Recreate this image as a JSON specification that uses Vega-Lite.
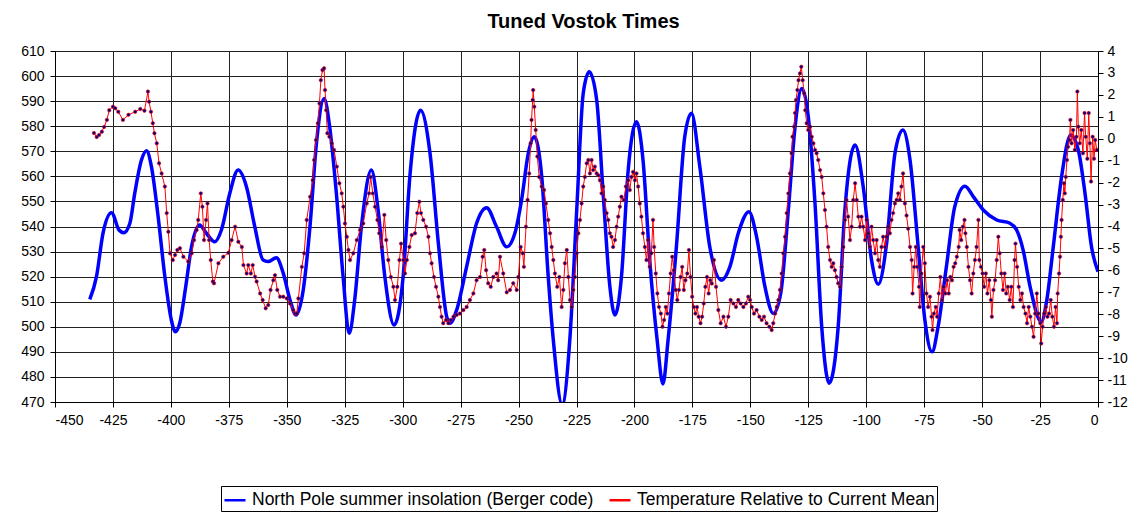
{
"$schema": "https://vega.github.io/schema/vega-lite/v6.json",
"width": 1043, "height": 351,
"autosize": {"type": "none"},
"padding": {"left": 55, "top": 51, "right": 42, "bottom": 114},
"background": "white",
"title": {"text": "Tuned Vostok Times", "font": "Liberation Sans", "fontSize": 20, "fontWeight": "bold", "color": "black", "anchor": "middle", "frame": "group", "offset": 12, "dx": 7},
"config": {
  "view": {"stroke": "#999999", "strokeWidth": 1},
  "axis": {"labelFont": "Liberation Sans", "labelFontSize": 14, "labelColor": "black", "domainColor": "black", "tickColor": "black", "gridColor": "#222222", "gridWidth": 1, "tickSize": 5, "title": null, "labelOverlap": false},
  "legend": {"orient": "none", "legendX": 166, "legendY": 435, "direction": "horizontal", "columns": 2, "title": null, "strokeColor": "black", "fillColor": "white", "padding": 2, "labelFont": "Liberation Sans", "labelFontSize": 17.5, "labelColor": "black", "symbolType": "stroke", "symbolSize": 441, "symbolStrokeWidth": 2.5, "labelLimit": 0, "columnPadding": 10, "labelOffset": 5}
},
"datasets": {
"ins": [
{"age":-435,"ins":510.9},{"age":-432.1,"ins":520},{"age":-429.3,"ins":537.3},{"age":-425.6,"ins":545.5},{"age":-422.4,"ins":538.6},{"age":-420.3,"ins":537.5},{"age":-417.7,"ins":541.3},{"age":-415.6,"ins":553.2},{"age":-412.7,"ins":566.5},{"age":-410.5,"ins":570.2},{"age":-408.4,"ins":563.9},{"age":-405.5,"ins":543.9},{"age":-402.6,"ins":520},{"age":-399.8,"ins":502.7},{"age":-398.1,"ins":498},{"age":-396.2,"ins":501.4},{"age":-393.6,"ins":516},{"age":-391.1,"ins":531.9},{"age":-387.6,"ins":540.6},{"age":-384.7,"ins":537.3},{"age":-381.1,"ins":533.9},{"age":-378.2,"ins":538.6},{"age":-374.6,"ins":553.2},{"age":-371,"ins":562.5},{"age":-367.4,"ins":555.9},{"age":-363.8,"ins":539.9},{"age":-360.2,"ins":526.6},{"age":-358.1,"ins":526},{"age":-354.5,"ins":527.5},{"age":-351.5,"ins":521.3},{"age":-348.6,"ins":510.7},{"age":-346,"ins":504.7},{"age":-342.9,"ins":514.7},{"age":-340,"ins":539.9},{"age":-337.2,"ins":573.2},{"age":-333.9,"ins":591.1},{"age":-331.5,"ins":579.8},{"age":-328.6,"ins":553.2},{"age":-325.7,"ins":520},{"age":-323.1,"ins":497.4},{"age":-320.7,"ins":510.7},{"age":-317.8,"ins":539.9},{"age":-313.5,"ins":562.5},{"age":-310.6,"ins":546.6},{"age":-307.7,"ins":520},{"age":-303.7,"ins":500.7},{"age":-299.8,"ins":520},{"age":-296.9,"ins":559.9},{"age":-292.3,"ins":586.4},{"age":-288.2,"ins":569.2},{"age":-284.6,"ins":533.3},{"age":-281,"ins":504},{"age":-279.6,"ins":501.4},{"age":-276.7,"ins":506.7},{"age":-272.4,"ins":524},{"age":-268.1,"ins":541.3},{"age":-263.8,"ins":547.5},{"age":-259.5,"ins":539.9},{"age":-255.1,"ins":531.9},{"age":-251.6,"ins":537.3},{"age":-248.7,"ins":550.6},{"age":-245.8,"ins":569.2},{"age":-243.2,"ins":575.8},{"age":-240,"ins":559.9},{"age":-237.2,"ins":520},{"age":-235,"ins":494.7},{"age":-231.2,"ins":469},{"age":-227.8,"ins":496},{"age":-224.9,"ins":546.6},{"age":-222.1,"ins":593.1},{"age":-219.5,"ins":601.7},{"age":-216.3,"ins":590.5},{"age":-213.5,"ins":553.2},{"age":-210.6,"ins":516},{"age":-208.4,"ins":504.7},{"age":-205.6,"ins":520},{"age":-202.7,"ins":562.5},{"age":-199.1,"ins":581.8},{"age":-196.3,"ins":566.5},{"age":-193.4,"ins":526.6},{"age":-190.2,"ins":494.7},{"age":-187.7,"ins":477.2},{"age":-185.5,"ins":494.7},{"age":-181.9,"ins":531.9},{"age":-178.3,"ins":575.8},{"age":-175.4,"ins":585.2},{"age":-171.8,"ins":563.9},{"age":-167.5,"ins":531.9},{"age":-162.4,"ins":518.6},{"age":-158.8,"ins":524},{"age":-155.2,"ins":537.3},{"age":-150.6,"ins":545.9},{"age":-147.3,"ins":535.9},{"age":-143.7,"ins":516},{"age":-140.1,"ins":505.3},{"age":-136.9,"ins":513.3},{"age":-133.6,"ins":546.6},{"age":-130.7,"ins":579.8},{"age":-127.8,"ins":595},{"age":-125,"ins":583.8},{"age":-122.1,"ins":549.2},{"age":-119.2,"ins":500},{"age":-116,"ins":477.5},{"age":-112.1,"ins":500},{"age":-109.2,"ins":546.6},{"age":-104.8,"ins":572.5},{"age":-101.3,"ins":555.9},{"age":-97.7,"ins":526.6},{"age":-94.8,"ins":517},{"age":-91.2,"ins":533.3},{"age":-87.6,"ins":569.2},{"age":-84.2,"ins":578.5},{"age":-81.1,"ins":566.5},{"age":-77.6,"ins":531.9},{"age":-74.7,"ins":502.7},{"age":-71.6,"ins":490},{"age":-69,"ins":500},{"age":-65.4,"ins":524},{"age":-61.8,"ins":547.9},{"age":-57.4,"ins":556.1},{"age":-53.8,"ins":551.9},{"age":-49.5,"ins":546.6},{"age":-43.7,"ins":542.6},{"age":-38,"ins":541.3},{"age":-35.1,"ins":538.6},{"age":-32.3,"ins":530.6},{"age":-29.3,"ins":516},{"age":-24.5,"ins":502},{"age":-22.2,"ins":510},{"age":-19.3,"ins":531.9},{"age":-15.7,"ins":559.9},{"age":-11.8,"ins":576.5},{"age":-8.5,"ins":570.5},{"age":-5.6,"ins":553.2},{"age":-2.8,"ins":531.9},{"age":0,"ins":522}
],
"temp": [
{"age":-433.2,"temp":0.26},{"age":-432,"temp":0.08},{"age":-431,"temp":0.17},{"age":-429.8,"temp":0.32},{"age":-428.8,"temp":0.54},{"age":-427.6,"temp":0.86},{"age":-426.6,"temp":1.3},{"age":-425,"temp":1.46},{"age":-424,"temp":1.39},{"age":-422.7,"temp":1.23},{"age":-420.7,"temp":0.86},{"age":-418.3,"temp":1.09},{"age":-415.4,"temp":1.23},{"age":-413.2,"temp":1.36},{"age":-411.4,"temp":1.28},{"age":-409.9,"temp":2.15},{"age":-409.4,"temp":1.69},{"age":-408.6,"temp":1.23},{"age":-407.8,"temp":0.71},{"age":-407.1,"temp":0.25},{"age":-406.1,"temp":-0.21},{"age":-405.1,"temp":-1.12},{"age":-404,"temp":-1.58},{"age":-402.6,"temp":-2.18},{"age":-401.8,"temp":-3.39},{"age":-401.1,"temp":-4.24},{"age":-400.4,"temp":-5.22},{"age":-399.2,"temp":-5.53},{"age":-398.2,"temp":-5.3},{"age":-397.2,"temp":-5.07},{"age":-396.1,"temp":-4.99},{"age":-394.6,"temp":-5.38},{"age":-392.5,"temp":-5.6},{"age":-391,"temp":-5.22},{"age":-390,"temp":-4.62},{"age":-388.9,"temp":-4.16},{"age":-388.2,"temp":-3.7},{"age":-387.1,"temp":-2.49},{"age":-386.4,"temp":-3.1},{"age":-385.7,"temp":-4.62},{"age":-384.8,"temp":-3.7},{"age":-384.2,"temp":-2.95},{"age":-383.5,"temp":-4.62},{"age":-382.8,"temp":-5.53},{"age":-381.9,"temp":-6.51},{"age":-381.4,"temp":-6.59},{"age":-379.5,"temp":-5.68},{"age":-377.4,"temp":-5.38},{"age":-375.2,"temp":-5.2},{"age":-373.8,"temp":-4.62},{"age":-372.3,"temp":-4.01},{"age":-370.9,"temp":-4.7},{"age":-369.4,"temp":-4.93},{"age":-368.7,"temp":-5.76},{"age":-367.3,"temp":-6.14},{"age":-366.6,"temp":-5.76},{"age":-365.5,"temp":-6.14},{"age":-364.7,"temp":-5.76},{"age":-363.7,"temp":-6.29},{"age":-363,"temp":-6.51},{"age":-361.5,"temp":-7.05},{"age":-360.4,"temp":-7.35},{"age":-359.1,"temp":-7.73},{"age":-358,"temp":-7.58},{"age":-357,"temp":-6.89},{"age":-355.8,"temp":-6.45},{"age":-355.1,"temp":-6.22},{"age":-354.1,"temp":-6.89},{"age":-352.9,"temp":-7.2},{"age":-351.5,"temp":-7.2},{"age":-350,"temp":-7.28},{"age":-348.6,"temp":-7.51},{"age":-347.2,"temp":-7.81},{"age":-346.4,"temp":-7.97},{"age":-345.7,"temp":-7.97},{"age":-345,"temp":-7.28},{"age":-343.5,"temp":-5.84},{"age":-342.5,"temp":-5.22},{"age":-341.4,"temp":-3.7},{"age":-339.9,"temp":-2.64},{"age":-338.8,"temp":-1.89},{"age":-338.2,"temp":-0.97},{"age":-337.4,"temp":-0.06},{"age":-336.6,"temp":0.71},{"age":-335.9,"temp":1.61},{"age":-335.3,"temp":2.67},{"age":-334.6,"temp":3.13},{"age":-333.9,"temp":3.21},{"age":-333.5,"temp":2.22},{"age":-333,"temp":1.3},{"age":-332.5,"temp":0.25},{"age":-331.6,"temp":0.09},{"age":-330.6,"temp":-0.21},{"age":-329.6,"temp":-0.51},{"age":-328.4,"temp":-1.27},{"age":-327.3,"temp":-2.03},{"age":-326.3,"temp":-2.49},{"age":-325.6,"temp":-3.1},{"age":-324.9,"temp":-3.86},{"age":-324.1,"temp":-4.47},{"age":-323.4,"temp":-5.07},{"age":-322.7,"temp":-5.53},{"age":-321.3,"temp":-5.22},{"age":-319.8,"temp":-4.62},{"age":-318.4,"temp":-4.16},{"age":-317,"temp":-3.86},{"age":-315.5,"temp":-2.95},{"age":-314.5,"temp":-2.49},{"age":-313.8,"temp":-1.74},{"age":-312.9,"temp":-2.49},{"age":-311.9,"temp":-3.1},{"age":-310.9,"temp":-3.7},{"age":-310.1,"temp":-4.31},{"age":-309,"temp":-4.93},{"age":-307.9,"temp":-3.47},{"age":-307.1,"temp":-4.62},{"age":-306.2,"temp":-5.53},{"age":-305.1,"temp":-6.3},{"age":-304,"temp":-6.75},{"age":-303.3,"temp":-7.35},{"age":-302.3,"temp":-6.75},{"age":-301.4,"temp":-5.53},{"age":-300.7,"temp":-4.78},{"age":-299.7,"temp":-5.53},{"age":-299,"temp":-6.14},{"age":-298.2,"temp":-5.53},{"age":-297.1,"temp":-4.93},{"age":-296.1,"temp":-4.39},{"age":-294.7,"temp":-4.31},{"age":-293.7,"temp":-3.39},{"age":-292.8,"temp":-2.87},{"age":-292.1,"temp":-3.39},{"age":-291.1,"temp":-3.7},{"age":-289.9,"temp":-4.01},{"age":-288.9,"temp":-4.47},{"age":-288.2,"temp":-5.22},{"age":-287.5,"temp":-5.68},{"age":-286.5,"temp":-6.3},{"age":-285.6,"temp":-6.75},{"age":-284.6,"temp":-7.2},{"age":-283.9,"temp":-7.67},{"age":-283.2,"temp":-8.11},{"age":-282.5,"temp":-8.41},{"age":-281.3,"temp":-8.26},{"age":-280.3,"temp":-8.41},{"age":-279.3,"temp":-8.26},{"age":-278.1,"temp":-8.11},{"age":-276.7,"temp":-8.03},{"age":-275.3,"temp":-7.97},{"age":-273.8,"temp":-7.81},{"age":-272.4,"temp":-7.67},{"age":-271,"temp":-7.35},{"age":-269.5,"temp":-7.05},{"age":-268.1,"temp":-6.45},{"age":-266.6,"temp":-6.3},{"age":-265.5,"temp":-5.38},{"age":-264.8,"temp":-5.07},{"age":-264,"temp":-5.99},{"age":-263.1,"temp":-6.59},{"age":-262,"temp":-6.75},{"age":-260.9,"temp":-6.3},{"age":-259.5,"temp":-6.14},{"age":-258.8,"temp":-6.45},{"age":-258,"temp":-5.38},{"age":-256.6,"temp":-6.14},{"age":-255.1,"temp":-7.0},{"age":-253.7,"temp":-6.89},{"age":-252.3,"temp":-6.59},{"age":-250.8,"temp":-6.89},{"age":-250.1,"temp":-6.3},{"age":-249.1,"temp":-4.93},{"age":-248.2,"temp":-5.22},{"age":-247.7,"temp":-5.84},{"age":-246.8,"temp":-4.01},{"age":-246.1,"temp":-2.79},{"age":-245.4,"temp":-1.58},{"age":-244.8,"temp":-0.21},{"age":-244.4,"temp":0.86},{"age":-243.9,"temp":1.77},{"age":-243.7,"temp":2.22},{"age":-243.2,"temp":1.46},{"age":-242.6,"temp":0.4},{"age":-241.9,"temp":-0.81},{"age":-241.1,"temp":-1.74},{"age":-240,"temp":-2.18},{"age":-239,"temp":-2.34},{"age":-238.2,"temp":-2.95},{"age":-237.2,"temp":-3.7},{"age":-236.4,"temp":-4.31},{"age":-235.7,"temp":-4.93},{"age":-235,"temp":-5.53},{"age":-234.3,"temp":-6.14},{"age":-233.3,"temp":-6.75},{"age":-232.4,"temp":-6.3},{"age":-231.4,"temp":-7.67},{"age":-230.7,"temp":-6.89},{"age":-230,"temp":-5.68},{"age":-229.2,"temp":-5.07},{"age":-228.5,"temp":-6.3},{"age":-227.8,"temp":-7.35},{"age":-227.1,"temp":-7.67},{"age":-226.4,"temp":-6.89},{"age":-225.7,"temp":-6.3},{"age":-224.9,"temp":-5.22},{"age":-224.2,"temp":-4.31},{"age":-223.5,"temp":-3.7},{"age":-222.8,"temp":-2.95},{"age":-222.1,"temp":-2.18},{"age":-221.4,"temp":-1.74},{"age":-220.6,"temp":-1.12},{"age":-219.9,"temp":-0.97},{"age":-219.2,"temp":-1.58},{"age":-218.5,"temp":-0.97},{"age":-217.8,"temp":-1.43},{"age":-217.1,"temp":-1.27},{"age":-216.3,"temp":-1.58},{"age":-215.6,"temp":-1.66},{"age":-214.9,"temp":-1.89},{"age":-214.2,"temp":-2.49},{"age":-213.5,"temp":-2.18},{"age":-212.8,"temp":-2.79},{"age":-212,"temp":-3.39},{"age":-211.3,"temp":-3.7},{"age":-210.6,"temp":-4.31},{"age":-209.9,"temp":-4.47},{"age":-209.2,"temp":-4.93},{"age":-208.4,"temp":-4.62},{"age":-207.7,"temp":-4.01},{"age":-207,"temp":-3.55},{"age":-206.3,"temp":-3.1},{"age":-205.6,"temp":-2.64},{"age":-204.6,"temp":-2.79},{"age":-203.7,"temp":-2.18},{"age":-202.7,"temp":-1.89},{"age":-202,"temp":-2.34},{"age":-201.3,"temp":-1.74},{"age":-200.6,"temp":-1.51},{"age":-199.8,"temp":-1.89},{"age":-199.1,"temp":-1.58},{"age":-198.4,"temp":-2.18},{"age":-197.7,"temp":-2.95},{"age":-197,"temp":-3.55},{"age":-196.3,"temp":-4.31},{"age":-195.5,"temp":-4.93},{"age":-194.8,"temp":-5.53},{"age":-194.1,"temp":-4.62},{"age":-193.4,"temp":-5.84},{"age":-192.7,"temp":-5.22},{"age":-192,"temp":-3.7},{"age":-191.5,"temp":-4.93},{"age":-190.8,"temp":-6.14},{"age":-190.1,"temp":-7.05},{"age":-189.4,"temp":-7.67},{"age":-188.6,"temp":-7.97},{"age":-187.9,"temp":-8.57},{"age":-187.2,"temp":-8.26},{"age":-186.5,"temp":-7.67},{"age":-185.8,"temp":-7.97},{"age":-185.1,"temp":-7.05},{"age":-184.4,"temp":-6.14},{"age":-183.7,"temp":-5.38},{"age":-183,"temp":-5.99},{"age":-182.2,"temp":-6.89},{"age":-181.5,"temp":-7.35},{"age":-180.8,"temp":-6.89},{"age":-180.1,"temp":-6.3},{"age":-179.4,"temp":-5.84},{"age":-178.7,"temp":-6.89},{"age":-178,"temp":-6.45},{"age":-177.2,"temp":-6.14},{"age":-176.5,"temp":-5.07},{"age":-175.8,"temp":-6.3},{"age":-175.1,"temp":-7.2},{"age":-174.4,"temp":-7.67},{"age":-173.7,"temp":-7.97},{"age":-173,"temp":-7.67},{"age":-172.3,"temp":-8.11},{"age":-171.5,"temp":-8.41},{"age":-170.8,"temp":-8.11},{"age":-170.1,"temp":-7.51},{"age":-169.4,"temp":-6.75},{"age":-168.7,"temp":-6.3},{"age":-168,"temp":-7.05},{"age":-167.3,"temp":-6.45},{"age":-166.6,"temp":-6.6},{"age":-165.7,"temp":-5.53},{"age":-164.8,"temp":-6.75},{"age":-163.8,"temp":-7.81},{"age":-162.8,"temp":-8.41},{"age":-161.6,"temp":-8.11},{"age":-160.5,"temp":-8.57},{"age":-159.5,"temp":-8.11},{"age":-158.5,"temp":-7.35},{"age":-157.3,"temp":-7.51},{"age":-156.2,"temp":-7.67},{"age":-155.2,"temp":-7.35},{"age":-154.2,"temp":-7.51},{"age":-153,"temp":-7.67},{"age":-151.9,"temp":-7.51},{"age":-150.9,"temp":-7.2},{"age":-150.1,"temp":-7.35},{"age":-149.4,"temp":-7.67},{"age":-148.4,"temp":-7.97},{"age":-147.3,"temp":-7.81},{"age":-146.1,"temp":-8.11},{"age":-145.1,"temp":-8.26},{"age":-144.1,"temp":-8.11},{"age":-143,"temp":-8.41},{"age":-141.8,"temp":-8.57},{"age":-140.8,"temp":-8.72},{"age":-140.1,"temp":-8.41},{"age":-139.3,"temp":-7.97},{"age":-138.6,"temp":-7.67},{"age":-137.9,"temp":-7.35},{"age":-137.2,"temp":-6.89},{"age":-136.5,"temp":-6.14},{"age":-135.8,"temp":-5.22},{"age":-135,"temp":-4.47},{"age":-134.3,"temp":-3.39},{"age":-133.6,"temp":-2.49},{"age":-132.9,"temp":-1.58},{"age":-132.2,"temp":-0.66},{"age":-131.8,"temp":0.09},{"age":-131.1,"temp":0.55},{"age":-130.7,"temp":1.17},{"age":-130.3,"temp":1.77},{"age":-129.7,"temp":2.22},{"age":-129.2,"temp":2.67},{"age":-128.6,"temp":2.98},{"age":-128,"temp":3.28},{"age":-127.4,"temp":2.67},{"age":-126.8,"temp":2.07},{"age":-126.3,"temp":1.3},{"age":-125.7,"temp":0.71},{"age":-125,"temp":0.4},{"age":-124.2,"temp":0.55},{"age":-123.5,"temp":0.09},{"age":-122.8,"temp":-0.21},{"age":-122.1,"temp":-0.51},{"age":-121.4,"temp":-0.66},{"age":-120.7,"temp":-0.97},{"age":-119.9,"temp":-1.43},{"age":-119.2,"temp":-1.74},{"age":-118.5,"temp":-2.49},{"age":-117.8,"temp":-3.25},{"age":-117.1,"temp":-4.01},{"age":-116.4,"temp":-4.93},{"age":-115.6,"temp":-5.53},{"age":-114.9,"temp":-5.84},{"age":-114.2,"temp":-5.68},{"age":-113.5,"temp":-5.99},{"age":-112.8,"temp":-6.3},{"age":-112.1,"temp":-6.59},{"age":-111.3,"temp":-6.75},{"age":-110.6,"temp":-5.84},{"age":-109.9,"temp":-4.93},{"age":-109.2,"temp":-3.7},{"age":-108.5,"temp":-2.79},{"age":-107.8,"temp":-3.55},{"age":-107,"temp":-4.62},{"age":-106.3,"temp":-4.01},{"age":-105.6,"temp":-2.79},{"age":-104.8,"temp":-2.03},{"age":-104.1,"temp":-2.79},{"age":-103.4,"temp":-3.55},{"age":-102.7,"temp":-4.01},{"age":-102,"temp":-3.55},{"age":-101.3,"temp":-4.01},{"age":-100.5,"temp":-4.62},{"age":-99.8,"temp":-3.7},{"age":-99.1,"temp":-4.31},{"age":-98.4,"temp":-4.93},{"age":-97.7,"temp":-4.01},{"age":-97,"temp":-4.62},{"age":-96.2,"temp":-5.22},{"age":-95.5,"temp":-4.62},{"age":-94.8,"temp":-5.53},{"age":-94.1,"temp":-5.84},{"age":-93.4,"temp":-4.93},{"age":-92.7,"temp":-4.47},{"age":-91.9,"temp":-4.93},{"age":-91.2,"temp":-4.47},{"age":-90.5,"temp":-4.01},{"age":-89.8,"temp":-4.31},{"age":-89.1,"temp":-3.7},{"age":-88.4,"temp":-3.39},{"age":-87.6,"temp":-2.95},{"age":-86.9,"temp":-2.79},{"age":-86.2,"temp":-2.49},{"age":-85.5,"temp":-2.79},{"age":-84.8,"temp":-2.18},{"age":-84.1,"temp":-1.58},{"age":-83.3,"temp":-2.95},{"age":-82.6,"temp":-3.5},{"age":-81.9,"temp":-4.1},{"age":-81.1,"temp":-4.93},{"age":-80.4,"temp":-5.53},{"age":-80,"temp":-7.05},{"age":-79.3,"temp":-5.84},{"age":-78.6,"temp":-4.93},{"age":-78,"temp":-5.84},{"age":-77.2,"temp":-6.75},{"age":-76.9,"temp":-7.67},{"age":-76.2,"temp":-6.14},{"age":-75.4,"temp":-4.93},{"age":-74.7,"temp":-5.68},{"age":-74,"temp":-7.05},{"age":-73.3,"temp":-7.67},{"age":-72.5,"temp":-7.2},{"age":-71.8,"temp":-8.11},{"age":-71.4,"temp":-8.72},{"age":-70.8,"temp":-7.97},{"age":-70,"temp":-7.67},{"age":-69.4,"temp":-8.11},{"age":-68.7,"temp":-7.05},{"age":-68,"temp":-6.3},{"age":-67.3,"temp":-7.35},{"age":-66.6,"temp":-6.75},{"age":-65.8,"temp":-7.05},{"age":-65.1,"temp":-6.45},{"age":-64.4,"temp":-7.05},{"age":-63.7,"temp":-6.3},{"age":-63,"temp":-6.45},{"age":-62.3,"temp":-5.84},{"age":-61.6,"temp":-5.68},{"age":-60.9,"temp":-5.38},{"age":-60.1,"temp":-4.93},{"age":-59.7,"temp":-4.16},{"age":-59,"temp":-4.62},{"age":-58.3,"temp":-4.01},{"age":-57.6,"temp":-3.7},{"age":-57.2,"temp":-4.31},{"age":-56.6,"temp":-4.93},{"age":-55.9,"temp":-5.84},{"age":-55.2,"temp":-6.45},{"age":-54.5,"temp":-7.05},{"age":-53.8,"temp":-6.14},{"age":-53.1,"temp":-5.53},{"age":-52.4,"temp":-4.93},{"age":-51.6,"temp":-3.7},{"age":-51.2,"temp":-5.53},{"age":-50.5,"temp":-5.84},{"age":-49.8,"temp":-6.14},{"age":-49.1,"temp":-6.75},{"age":-48.4,"temp":-6.14},{"age":-47.7,"temp":-7.05},{"age":-46.9,"temp":-6.45},{"age":-46.2,"temp":-7.35},{"age":-45.8,"temp":-8.11},{"age":-45.1,"temp":-6.89},{"age":-44.4,"temp":-6.45},{"age":-43.7,"temp":-5.53},{"age":-43,"temp":-4.47},{"age":-42.4,"temp":-5.22},{"age":-41.7,"temp":-6.14},{"age":-41,"temp":-6.89},{"age":-40.3,"temp":-6.14},{"age":-39.6,"temp":-7.05},{"age":-38.9,"temp":-6.75},{"age":-38.1,"temp":-7.35},{"age":-37.4,"temp":-6.75},{"age":-36.7,"temp":-7.67},{"age":-36,"temp":-5.53},{"age":-35.6,"temp":-4.78},{"age":-34.9,"temp":-5.84},{"age":-34.2,"temp":-6.75},{"age":-33.5,"temp":-7.35},{"age":-32.8,"temp":-7.05},{"age":-32.1,"temp":-7.67},{"age":-31.3,"temp":-7.97},{"age":-30.6,"temp":-8.41},{"age":-29.9,"temp":-7.67},{"age":-29.2,"temp":-8.11},{"age":-28.5,"temp":-8.57},{"age":-27.8,"temp":-9.03},{"age":-27.1,"temp":-7.97},{"age":-26.4,"temp":-7.05},{"age":-25.7,"temp":-7.97},{"age":-24.9,"temp":-8.41},{"age":-24.5,"temp":-9.33},{"age":-23.9,"temp":-8.57},{"age":-23.2,"temp":-7.97},{"age":-22.5,"temp":-7.67},{"age":-21.8,"temp":-8.11},{"age":-21.1,"temp":-7.97},{"age":-20.4,"temp":-7.35},{"age":-19.7,"temp":-8.11},{"age":-19,"temp":-8.57},{"age":-18.3,"temp":-7.67},{"age":-17.7,"temp":-8.41},{"age":-17.4,"temp":-7.05},{"age":-16.8,"temp":-6.14},{"age":-16.4,"temp":-5.38},{"age":-16,"temp":-4.47},{"age":-15.7,"temp":-3.7},{"age":-15.2,"temp":-2.79},{"age":-14.7,"temp":-2.03},{"age":-14.3,"temp":-2.49},{"age":-13.9,"temp":-1.74},{"age":-13.4,"temp":-0.97},{"age":-12.9,"temp":-0.37},{"age":-12.3,"temp":-0.06},{"age":-11.9,"temp":0.86},{"age":-11.4,"temp":-0.21},{"age":-10.7,"temp":0.4},{"age":-10,"temp":-0.51},{"age":-9.3,"temp":0.09},{"age":-8.9,"temp":2.15},{"age":-8.5,"temp":0.55},{"age":-7.9,"temp":-0.21},{"age":-7.2,"temp":0.4},{"age":-6.5,"temp":-0.66},{"age":-5.8,"temp":1.17},{"age":-5.3,"temp":0.09},{"age":-4.6,"temp":-0.91},{"age":-4,"temp":1.17},{"age":-3.5,"temp":-0.21},{"age":-3,"temp":-1.95},{"age":-2.3,"temp":0.09},{"age":-1.7,"temp":-0.91},{"age":-1.2,"temp":-0.06},{"age":-0.5,"temp":-0.51}
]
},
"layer": [
  {
    "data": {"name": "ins"},
    "mark": {"type": "line", "interpolate": "monotone", "strokeWidth": 3.5, "clip": true},
    "encoding": {
      "x": {"field": "age", "type": "quantitative", "scale": {"domain": [-450, 0], "nice": false}, "axis": {"values": [-450,-425,-400,-375,-350,-325,-300,-275,-250,-225,-200,-175,-150,-125,-100,-75,-50,-25,0], "grid": true, "labelPadding": 6, "labelExpr": "'' + datum.value"}},
      "y": {"field": "ins", "type": "quantitative", "scale": {"domain": [470, 610], "nice": false, "zero": false}, "axis": {"values": [470,480,490,500,510,520,530,540,550,560,570,580,590,600,610], "grid": true, "labelPadding": 6}},
      "color": {"datum": "North Pole summer insolation (Berger code)", "type": "nominal", "scale": {"domain": ["North Pole summer insolation (Berger code)", "Temperature Relative to Current Mean"], "range": ["#0000ff", "#ff0000"]}}
    }
  },
  {
    "data": {"name": "temp"},
    "encoding": {
      "x": {"field": "age", "type": "quantitative"},
      "y": {"field": "temp", "type": "quantitative", "scale": {"domain": [-12, 4], "nice": false, "zero": false}, "axis": {"orient": "right", "values": [-12,-11,-10,-9,-8,-7,-6,-5,-4,-3,-2,-1,0,1,2,3,4], "tickCount": 17, "grid": false, "labelOverlap": false, "labelPadding": 4, "labelExpr": "'' + datum.value"}}
    },
    "layer": [
      {
        "mark": {"type": "line", "strokeWidth": 1, "clip": true},
        "encoding": {
          "color": {"datum": "Temperature Relative to Current Mean", "type": "nominal"}
        }
      },
      {
        "mark": {"type": "point", "filled": true, "size": 12, "fill": "#000080", "stroke": "#ff0000", "strokeWidth": 0.6, "opacity": 1, "clip": true}
      }
    ]
  }
],
"resolve": {"scale": {"y": "independent"}}
}
